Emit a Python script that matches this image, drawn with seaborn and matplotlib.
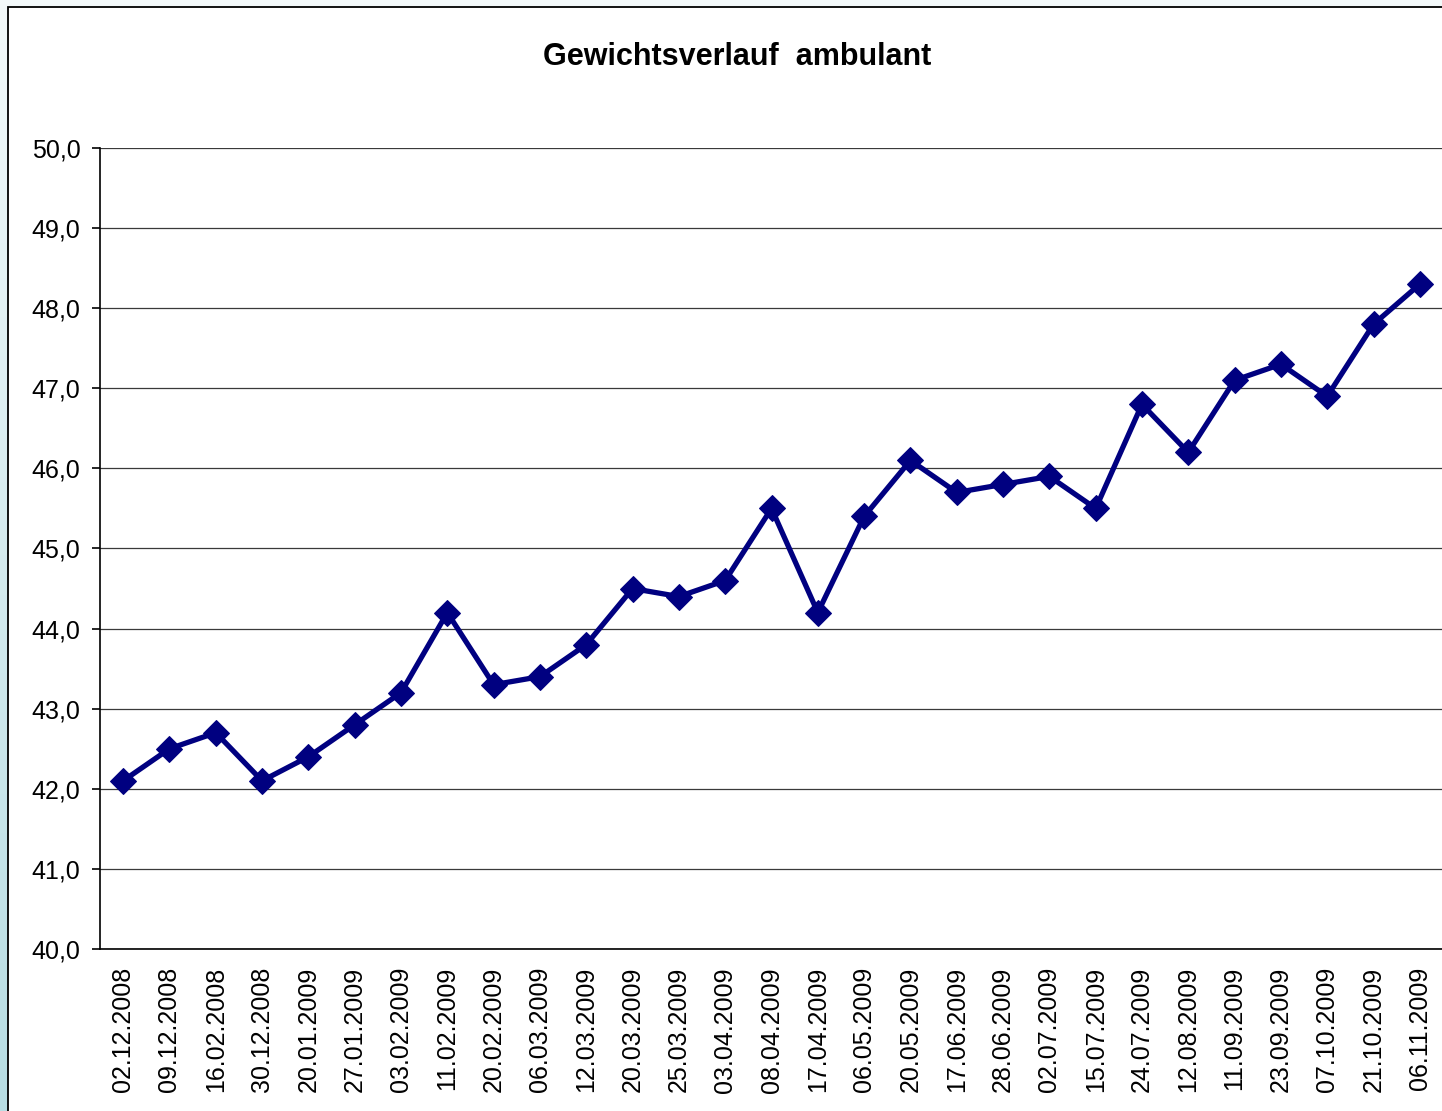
import matplotlib
matplotlib.use("Agg")
import matplotlib.pyplot as plt
import seaborn as sns
import numpy as np
import pandas as pd
from matplotlib.patches import Rectangle
from matplotlib.ticker import FixedLocator, FuncFormatter

dates = ["02.12.2008", "09.12.2008", "16.02.2008", "30.12.2008", "20.01.2009",
         "27.01.2009", "03.02.2009", "11.02.2009", "20.02.2009", "06.03.2009",
         "12.03.2009", "20.03.2009", "25.03.2009", "03.04.2009", "08.04.2009",
         "17.04.2009", "06.05.2009", "20.05.2009", "17.06.2009", "28.06.2009",
         "02.07.2009", "15.07.2009", "24.07.2009", "12.08.2009", "11.09.2009",
         "23.09.2009", "07.10.2009", "21.10.2009", "06.11.2009"]
weights = [42.1, 42.5, 42.7, 42.1, 42.4, 42.8, 43.2, 44.2, 43.3, 43.4,
           43.8, 44.5, 44.4, 44.6, 45.5, 44.2, 45.4, 46.1, 45.7, 45.8,
           45.9, 45.5, 46.8, 46.2, 47.1, 47.3, 46.9, 47.8, 48.3]
title = "Gewichtsverlauf  ambulant"

sns.set_style("white")
plt.rcParams["font.family"] = ["Liberation Sans", "DejaVu Sans"]
plt.rcParams["text.color"] = "black"
plt.rcParams["xtick.color"] = "black"
plt.rcParams["ytick.color"] = "black"

W, H = 1442, 1111
fig = plt.figure(figsize=(W / 100, H / 100), dpi=100)

# light blue page background (Excel sheet look)
bg = fig.add_axes([0, 0, 1, 1], zorder=-10)
grad = np.linspace(0, 1, 256).reshape(-1, 1)
cmap = matplotlib.colors.LinearSegmentedColormap.from_list("bg", ["#f3f9fa", "#b7dde3"])
bg.imshow(grad, aspect="auto", cmap=cmap, extent=[0, 1, 0, 1], origin="upper")
bg.set_axis_off()
bg.add_patch(Rectangle((8 / W, -0.1), 1.1, 1 - 7 / H + 0.1, transform=bg.transAxes,
                       facecolor="white", edgecolor="black", linewidth=1.3))

left, right, top, bottom = 100, 1443, 148, 949
ax = fig.add_axes([left / W, 1 - bottom / H, (right - left) / W, (bottom - top) / H])
ax.set_facecolor("none")

df = pd.DataFrame({"pos": np.arange(len(dates)), "Gewicht": weights})
sns.lineplot(data=df, x="pos", y="Gewicht", ax=ax, color="#000080", linewidth=3.8,
             marker="D", markersize=13, markeredgecolor="#000080", sort=False)

ax.set_xlim(-0.5, len(dates) - 0.5)
ax.set_ylim(40, 50)
ax.set_yticks(np.arange(40, 51, 1))
ax.yaxis.set_major_formatter(FuncFormatter(lambda v, p: f"{v:.1f}".replace(".", ",")))
ax.grid(axis="y", color="#3a3a3a", linewidth=0.9)
ax.set_axisbelow(True)

ax.set_xticks(np.arange(len(dates)))
ax.set_xticklabels(dates, rotation=90)
ax.xaxis.set_minor_locator(FixedLocator(np.arange(-0.5, len(dates), 1)))
ax.tick_params(axis="x", which="major", length=0, pad=13, labelsize=18, labelcolor="black")
ax.tick_params(axis="x", which="minor", length=6, width=1.2, direction="out", color="black")
ax.tick_params(axis="y", length=6, width=1.2, direction="out", color="black", pad=8,
               labelsize=18, labelcolor="black", left=True)
ax.set_xlabel("")
ax.set_ylabel("")

for s in ["top", "right"]:
    ax.spines[s].set_visible(False)
for s in ["left", "bottom"]:
    ax.spines[s].set_color("black")
    ax.spines[s].set_linewidth(1.2)

fig.text(737 / W, 1 - 57 / H, title, ha="center", va="center", fontsize=22,
         fontweight="bold", color="black")

fig.savefig("out.png", dpi=100)
